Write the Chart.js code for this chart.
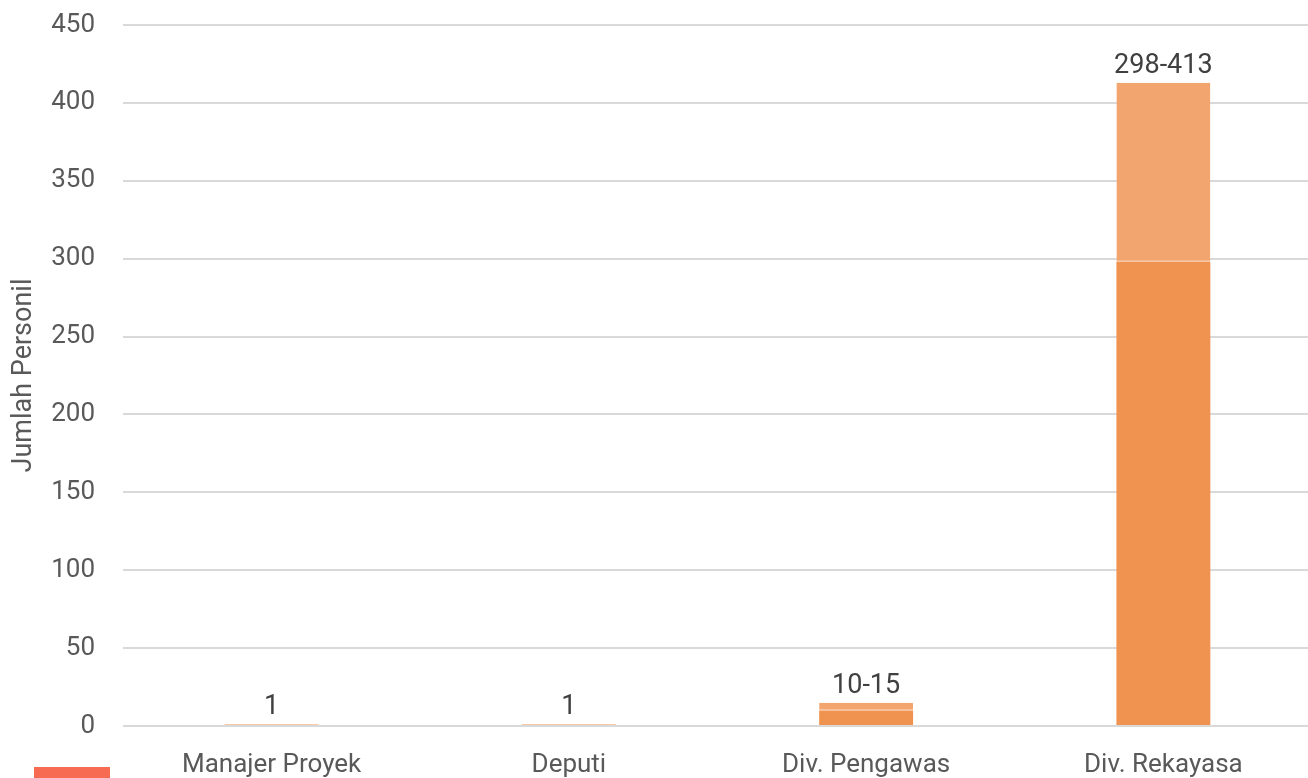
<!DOCTYPE html>
<html lang="id">
<head>
<meta charset="utf-8">
<title>Jumlah Personil per Divisi</title>
<script src="https://cdn.jsdelivr.net/npm/chart.js@4.4.1/dist/chart.umd.min.js"></script>
<style>
  html, body { margin: 0; padding: 0; overflow: hidden; background: #ffffff; }
  #wrap { width: 1312px; height: 817px; }
</style>
</head>
<body>
<div id="wrap"><canvas id="chart" width="1312" height="817"></canvas></div>
<script>
// Kategori jabatan dan rentang jumlah personil (minimum - maksimum)
const categories = ['Manajer Proyek', 'Deputi', 'Div. Pengawas', 'Div. Rekayasa'];
const minPersonil = [1, 1, 10, 298];
const maxPersonil = [1, 1, 15, 413];
const yTicks = [0, 50, 100, 150, 200, 250, 300, 350, 400, 450];

// Segmen bawah = minimum, segmen atas = selisih hingga maksimum
const rangeExtra = maxPersonil.map((v, i) => v - minPersonil[i]);
const rangeLabels = minPersonil.map((v, i) =>
  v === maxPersonil[i] ? String(v) : v + '-' + maxPersonil[i]);

const FONT = "Roboto, 'Liberation Sans', sans-serif";

const valueLabels = {
  id: 'valueLabels',
  afterDatasetsDraw(chart) {
    const { ctx, scales: { x, y } } = chart;
    ctx.save();
    ctx.font = '27px ' + FONT;
    ctx.fillStyle = '#404040';
    ctx.textAlign = 'center';
    ctx.textBaseline = 'alphabetic';
    rangeLabels.forEach((txt, i) => {
      ctx.fillText(txt, x.getPixelForValue(i), y.getPixelForValue(maxPersonil[i]) - 10);
    });
    ctx.restore();
  }
};

new Chart(document.getElementById('chart'), {
  type: 'bar',
  data: {
    labels: categories,
    datasets: [
      {
        label: 'Minimum',
        data: minPersonil,
        backgroundColor: '#f09350',
        borderWidth: 0,
        categoryPercentage: 1,
        barPercentage: 0.316
      },
      {
        label: 'Maksimum',
        data: rangeExtra,
        backgroundColor: '#f3a570',
        borderColor: '#f7bf96',
        borderWidth: { top: 0, left: 0, right: 0, bottom: 1 },
        borderSkipped: false,
        categoryPercentage: 1,
        barPercentage: 0.316
      },
      {
        label: 'Kebutuhan Personil',
        data: [],
        backgroundColor: '#f76b53',
        borderWidth: 0
      }
    ]
  },
  options: {
    responsive: false,
    animation: false,
    layout: { padding: { left: 34, top: 25, right: 0, bottom: 0 } },
    plugins: {
      legend: {
        display: true,
        position: 'bottom',
        align: 'start',
        labels: {
          boxWidth: 76,
          boxHeight: 40,
          padding: 0,
          font: { family: FONT, size: 14 },
          color: '#595959',
          filter: (item) => item.datasetIndex === 2
        }
      },
      tooltip: { enabled: false }
    },
    scales: {
      x: {
        stacked: true,
        grid: { display: false, drawTicks: false },
        border: { display: false },
        ticks: {
          font: { family: FONT, size: 26 },
          color: '#595959',
          mirror: true,
          padding: -55,
          maxRotation: 0,
          autoSkip: false
        },
        afterFit: (scale) => { scale.height = 41; }
      },
      y: {
        stacked: true,
        min: 0,
        max: 450,
        afterBuildTicks: (scale) => { scale.ticks = yTicks.map(v => ({ value: v })); },
        grid: { color: '#d9d9d9', lineWidth: 2, drawTicks: false },
        border: { display: false },
        ticks: {
          font: { family: FONT, size: 26 },
          color: '#595959',
          padding: 28
        },
        title: {
          display: true,
          text: 'Jumlah Personil',
          font: { family: FONT, size: 27 },
          color: '#595959',
          padding: { top: -26, bottom: 0 }
        },
        afterFit: (scale) => {
          scale.width = 89;
          scale.paddingTop = 0;
          scale.paddingBottom = 0;
        }
      }
    }
  },
  plugins: [valueLabels]
});
</script>
</body>
</html>
